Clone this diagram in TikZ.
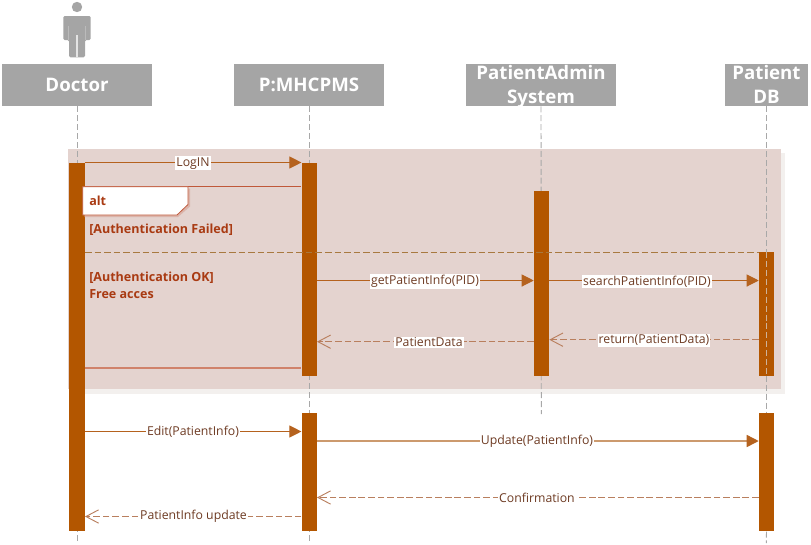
\documentclass[tikz,border=0pt]{standalone}
\usepackage{fontspec}
\setmainfont{Open Sans}
\usetikzlibrary{arrows.meta}
\definecolor{hdr}{HTML}{A5A5A5}
\definecolor{actc}{HTML}{B35600}
\definecolor{pinkbg}{HTML}{E4D3CF}
\definecolor{shadowc}{HTML}{F3F0EE}
\definecolor{lifec}{HTML}{A8A8A8}
\definecolor{msgc}{HTML}{B5621E}
\definecolor{retc}{HTML}{B97F5E}
\definecolor{updc}{HTML}{CC9A6E}
\definecolor{labc}{HTML}{6E3B23}
\definecolor{boldc}{HTML}{A93A12}
\definecolor{framec}{HTML}{C0583A}
\definecolor{sepc}{HTML}{A8793F}
\tikzset{
  header/.style={fill=hdr,inner sep=0pt,minimum height=31.5pt},
  headtext/.style={text=white,font=\bfseries\fontsize{14}{18.5}\selectfont,align=center,inner sep=0pt},
  actbar/.style={fill=actc,inner sep=0pt,anchor=north},
  lifeline/.style={lifec,line width=0.7pt,dash pattern=on 4.5pt off 2.2pt},
  call/.style={msgc,line width=0.8pt,-{Triangle[length=9pt,width=9pt]}},
  reply/.style={retc,line width=0.8pt,dash pattern=on 5pt off 2.2pt,-{Straight Barb[length=9.5pt,width=10pt,line width=0.7pt]}},
  msglabel/.style={fill=white,text=labc,font=\fontsize{9.2}{11}\selectfont,inner sep=0.8pt},
  guard/.style={text=boldc,font=\bfseries\fontsize{9.4}{12}\selectfont,anchor=west,inner sep=0pt,align=left},
}
\begin{document}
\begin{tikzpicture}[x=0.75pt,y=-0.75pt]
\useasboundingbox (0,0) rectangle (811,544);
% group region
\fill[shadowc] (85,153) rectangle (785,394);
\fill[pinkbg] (68.3,149) rectangle (780.7,389.3);
% person
\fill[hdr] (77,7) circle (5.2);
\fill[hdr,rounded corners=1pt] (63.3,16) -- (90.7,16) -- (90.7,40) -- (85,40) -- (85,57.3) -- (69,57.3) -- (69,40) -- (63.3,40) -- cycle;
\fill[hdr!30] (76.3,35) rectangle (77.7,57.3);
\fill[hdr!75] (67.8,26) rectangle (68.6,40);
\fill[hdr!75] (85.4,26) rectangle (86.2,40);
% headers
\node[header,minimum width=112.5pt] (doc) at (77,85) {};
\node[header,minimum width=112.5pt] (mhc) at (309,85) {};
\node[header,minimum width=112.5pt] (adm) at (541,85) {};
\node[header,minimum width=62.5pt] (db) at (766.5,85) {};
\node[headtext] (docT) at (doc) {Doctor};
\node[headtext] (mhcT) at (mhc) {P:MHCPMS};
\node[headtext] (admT) at (541,86.5) {PatientAdmin\\System};
\node[headtext] (dbT) at (766.5,86.5) {Patient\vphantom{d}\\DB\vphantom{y}};
% lifeline ends
\coordinate (docEnd) at (77,543);
\coordinate (mhcEnd) at (309,543);
\coordinate (admEnd) at (541.3,414);
\coordinate (dbEnd) at (766.3,543);
\draw[lifeline] (doc.south) -- (docEnd);
\draw[lifeline] (mhc.south) -- (mhcEnd);
\draw[lifeline] (adm.south) -- (admEnd);
% activations
\node[actbar,minimum width=11.5pt,minimum height=276.5pt] (docA) at (77,162.3) {};
\node[actbar,minimum width=11.25pt,minimum height=159.8pt] (mhcA) at (309.2,162.3) {};
\node[actbar,minimum width=11.25pt,minimum height=89pt] (mhcB) at (309.2,412.3) {};
\node[actbar,minimum width=11.25pt,minimum height=138.2pt] (admA) at (541.5,191) {};
\node[actbar,minimum width=11.25pt,minimum height=92.5pt] (dbA) at (766.5,252) {};
\node[actbar,minimum width=11.25pt,minimum height=89pt] (dbB) at (766.5,412.3) {};
\draw[lifeline] (db.south) -- (dbA.north);
\draw[lifeline,draw=lifec!50!actc!60!white] (dbA.north) -- (dbA.south);
\draw[lifeline] (dbA.south) -- (dbB.north);
\draw[lifeline] (dbB.south) -- (dbEnd);
% y levels
\coordinate (yLogin) at (0,162.5);
\coordinate (yFrameTop) at (0,186.7);
\coordinate (yFrameBot) at (0,368);
\coordinate (ySep) at (0,252);
\coordinate (yGet) at (0,280.5);
\coordinate (yData) at (0,341.7);
\coordinate (yRet) at (0,339.7);
\coordinate (yEdit) at (0,431.5);
\coordinate (yUpd) at (0,441);
\coordinate (yConf) at (0,497.5);
\coordinate (yInfo) at (0,516.5);
% frame
\draw[framec,line width=0.8pt] (docA.east |- yFrameTop) -- (mhcA.west |- yFrameTop);
\draw[framec!75!white,line width=1.1pt] (docA.east |- yFrameBot) -- (mhcA.west |- yFrameBot);
\draw[sepc,line width=0.7pt,dash pattern=on 5pt off 2.2pt] (docA.east |- ySep) -- (dbA.west |- ySep);
\fill[framec!25!pinkbg] (84.5,188.5) -- (190,188.5) -- (190,206.5) -- (178,217) -- (84.5,217) -- cycle;
\filldraw[fill=white,draw=framec,line width=0.6pt] (82.7,186.7) -- (188,186.7) -- (188,204.5) -- (177,215) -- (82.7,215) -- cycle;
\node[guard] (altT) at (89,200.5) {alt};
\node[guard] (g1) at (89,230) {[Authentication Failed]};
\node[guard] (g2) at (89,278) {[Authentication OK]};
\node[guard] (g3) at (89,294) {Free acces};
% messages
\draw[call] (docA.east |- yLogin) -- (mhcA.west |- yLogin);
\draw[call] (mhcA.east |- yGet) -- (admA.west |- yGet);
\draw[call] (admA.east |- yGet) -- (dbA.west |- yGet);
\draw[reply] (admA.west |- yData) -- (mhcA.east |- yData);
\draw[reply] (dbA.west |- yRet) -- (admA.east |- yRet);
\draw[call] (docA.east |- yEdit) -- (mhcB.west |- yEdit);
\draw[call,draw=updc,line width=1.1pt,-{Triangle[length=9pt,width=9pt,fill=msgc,color=msgc]}] (mhcB.east |- yUpd) -- (dbB.west |- yUpd);
\draw[reply] (dbB.west |- yConf) -- (mhcB.east |- yConf);
\draw[reply] (mhcB.west |- yInfo) -- (docA.east |- yInfo);
% message labels
\node[msglabel] (l1) at (193,163.2) {LogIN};
\node[msglabel] (l2) at (425,281.7) {getPatientInfo(PID)};
\node[msglabel] (l3) at (647,281.7) {searchPatientInfo(PID)};
\node[msglabel] (l4) at (429,342.2) {PatientData};
\node[msglabel] (l5) at (654,340.2) {return(PatientData)};
\node[msglabel] (l6) at (193,432.2) {Edit(PatientInfo)};
\node[msglabel] (l7) at (537,441.7) {Update(PatientInfo)};
\node[msglabel] (l8) at (537,498.2) {Confirmation};
\node[msglabel] (l9) at (193.5,516.7) {PatientInfo update};
\end{tikzpicture}
\end{document}
